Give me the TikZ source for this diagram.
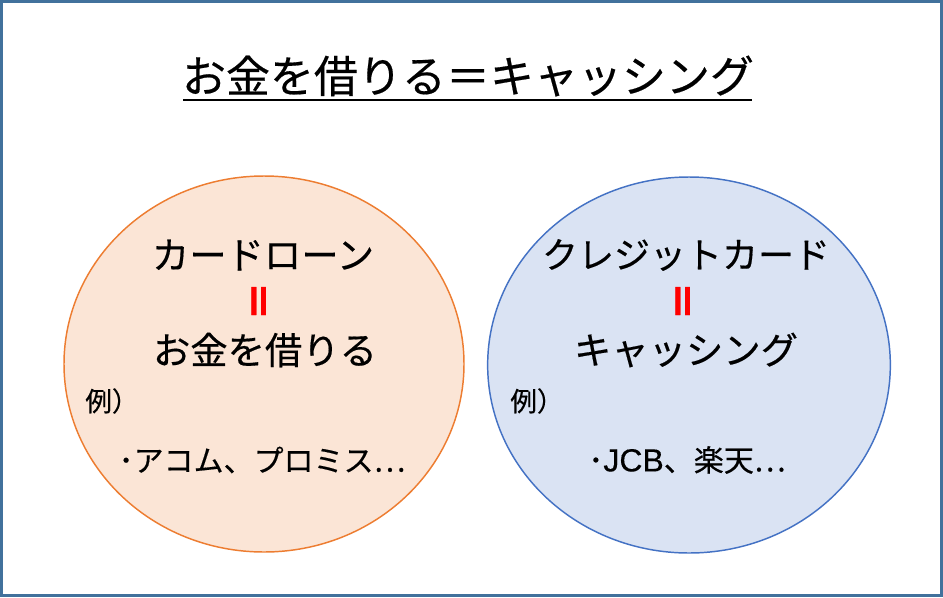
\documentclass[tikz,border=0pt]{standalone}
\usepackage{fontspec}
\setmainfont[FakeBold=0.4]{Noto Sans CJK JP}
\newfontfamily\latinfont[FakeBold=0.3]{Liberation Sans}
\usepackage{xcolor}
\usetikzlibrary{shapes.geometric,positioning}

\definecolor{framecol}{HTML}{41719C}
\definecolor{loanfill}{HTML}{FBE5D6}
\definecolor{loanline}{HTML}{ED7D31}
\definecolor{cardfill}{HTML}{DAE3F3}
\definecolor{cardline}{HTML}{4472C4}

\begin{document}
\begin{tikzpicture}[x=0.75pt, y=-0.75pt,
    bubble/.style={ellipse, draw, line width=1.1pt, inner sep=0pt},
    big/.style={font=\fontsize{28}{30}\selectfont, inner sep=0pt},
    small/.style={font=\fontsize{20}{22}\selectfont, inner sep=0pt},
    item/.style={font=\fontsize{22.5}{24}\selectfont, inner sep=0pt},
    equal/.style={font=\fontsize{30}{30}\selectfont\bfseries, text=red, rotate=90, inner sep=0pt}
]
\useasboundingbox (0,0) rectangle (943,597);
\draw[framecol, line width=2pt] (1.5,1.5) rectangle (941.5,595.5);

% title
\node[font=\fontsize{33}{36}\selectfont, inner sep=0pt] (title) at (468,76) {お金を借りる＝キャッシング};
\draw[line width=1.5pt] (183,100) -- (752,100);

% left circle
\node[bubble, fill=loanfill, draw=loanline, minimum width=300pt, minimum height=282pt] (loan) at (264,364) {};
\node[big] (loanname) at (263,255) {カードローン};
\node[equal] (loaneq) at (263,301) {＝};
\node[big] (borrow) at (265,350) {お金を借りる};
\node[small] (loanex) at (112,401) {例）};
\node[item] (loanitem) at (262,460) {･アコム、プロミス…};

% right circle
\node[bubble, fill=cardfill, draw=cardline, minimum width=302pt, minimum height=282pt] (card) at (689,365) {};
\node[big, font=\fontsize{27}{30}\selectfont] (cardname) at (686,255) {クレジットカード};
\node[equal] (cardeq) at (687,301) {＝};
\node[big] (cashing) at (686,350) {キャッシング};
\node[small] (cardex) at (537,401) {例）};
\node[item] (carditem) at (687,460) {･{\latinfont\fontsize{24}{24}\selectfont JCB}、楽天…};

\end{tikzpicture}
\end{document}
